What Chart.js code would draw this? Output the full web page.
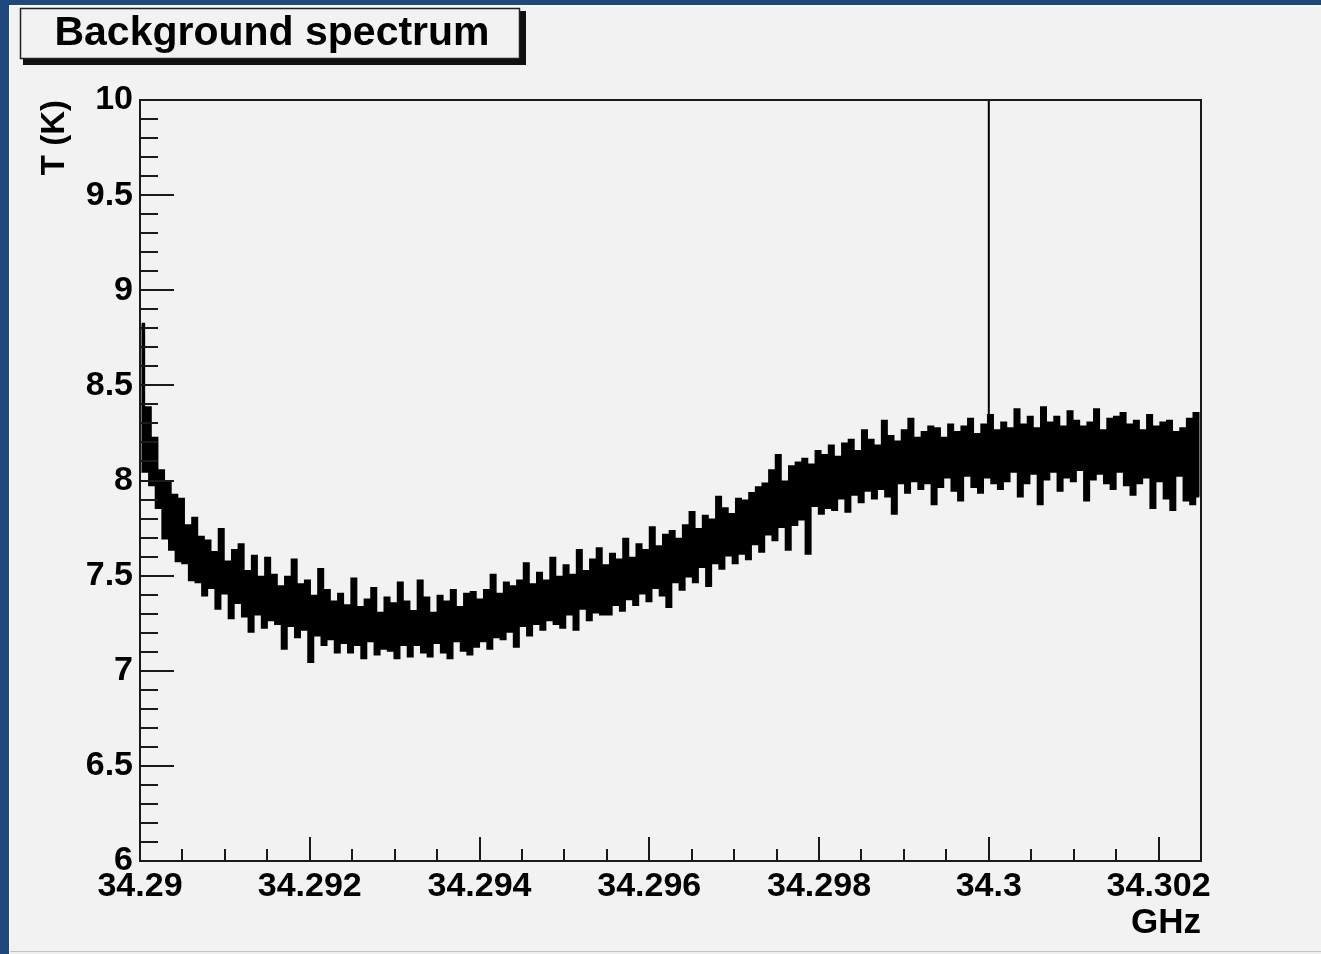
<!DOCTYPE html>
<html>
<head>
<meta charset="utf-8">
<script src="https://cdn.jsdelivr.net/npm/chart.js@4/dist/chart.umd.min.js"></script>
<style>
  html, body { margin: 0; padding: 0; background: #1f497d; }
  canvas { display: block; }
</style>
</head>
<body>
<canvas id="c" width="1321" height="954"></canvas>
<script>
// ---- Data ----
const titleText = "Background spectrum";
const xAxisTitle = "GHz";
const yAxisTitle = "T (K)";

const freqStart = 34.29;        // GHz, left edge of spectrum
const freqEnd = 34.3025;        // GHz, right edge of spectrum
const xTickValues = [34.29, 34.292, 34.294, 34.296, 34.298, 34.3, 34.302];
const yTickValues = [6, 6.5, 7, 7.5, 8, 8.5, 9, 9.5, 10];

// Brightness temperature per channel (K), read left to right
const temperatureK = [
  8.82, 8.05, 8.38, 7.98, 8.22, 7.86, 8.05, 7.70, 7.99, 7.64, 7.92, 7.58, 7.90, 7.57, 7.76, 7.48, 7.80, 7.47, 7.70, 7.40,
  7.68, 7.44, 7.62, 7.33, 7.74, 7.41, 7.57, 7.28, 7.63, 7.36, 7.66, 7.29, 7.52, 7.21, 7.60, 7.30, 7.49, 7.23, 7.59, 7.27,
  7.50, 7.25, 7.44, 7.12, 7.49, 7.24, 7.58, 7.18, 7.45, 7.22, 7.47, 7.05, 7.39, 7.19, 7.53, 7.14, 7.42, 7.17, 7.36, 7.10,
  7.40, 7.15, 7.34, 7.10, 7.48, 7.14, 7.33, 7.07, 7.37, 7.16, 7.43, 7.09, 7.30, 7.12, 7.38, 7.11, 7.35, 7.07, 7.46, 7.14,
  7.36, 7.08, 7.31, 7.14, 7.47, 7.10, 7.38, 7.08, 7.30, 7.15, 7.39, 7.10, 7.36, 7.07, 7.42, 7.16, 7.33, 7.11, 7.40, 7.09,
  7.41, 7.13, 7.37, 7.16, 7.42, 7.12, 7.50, 7.18, 7.40, 7.17, 7.46, 7.21, 7.44, 7.13, 7.47, 7.24, 7.56, 7.19, 7.45, 7.25,
  7.51, 7.22, 7.47, 7.27, 7.59, 7.25, 7.49, 7.23, 7.55, 7.30, 7.50, 7.22, 7.63, 7.33, 7.52, 7.27, 7.58, 7.31, 7.64, 7.30,
  7.55, 7.30, 7.61, 7.35, 7.58, 7.32, 7.69, 7.38, 7.59, 7.35, 7.66, 7.41, 7.63, 7.37, 7.75, 7.44, 7.65, 7.40, 7.71, 7.34,
  7.73, 7.47, 7.69, 7.43, 7.76, 7.50, 7.83, 7.47, 7.74, 7.55, 7.81, 7.45, 7.79, 7.57, 7.91, 7.54, 7.85, 7.61, 7.82, 7.57,
  7.90, 7.62, 7.89, 7.59, 7.93, 7.67, 7.96, 7.63, 7.98, 7.72, 8.05, 7.69, 8.13, 7.76, 7.99, 7.64, 8.07, 7.77, 8.09, 7.80,
  8.11, 7.62, 8.08, 7.87, 8.15, 7.83, 8.13, 7.86, 8.18, 7.85, 8.12, 7.91, 8.19, 7.84, 8.21, 7.93, 8.15, 7.89, 8.26, 7.95,
  8.21, 7.91, 8.18, 7.96, 8.31, 7.92, 8.23, 7.83, 8.20, 7.99, 8.26, 7.94, 8.32, 8.00, 8.22, 7.96, 8.25, 7.99, 8.28, 7.88,
  8.27, 7.97, 8.22, 8.02, 8.29, 7.95, 8.25, 7.90, 8.28, 8.03, 8.32, 7.97, 8.24, 7.94, 8.29, 8.02, 8.34, 7.99, 8.26, 7.96,
  8.30, 8.00, 8.27, 8.05, 8.37, 7.92, 8.29, 7.99, 8.33, 8.04, 8.27, 7.88, 8.38, 8.01, 8.30, 8.05, 8.33, 7.95, 8.28, 8.02,
  8.36, 8.00, 8.31, 8.06, 8.28, 7.90, 8.30, 8.01, 8.37, 8.04, 8.26, 7.99, 8.32, 7.96, 8.33, 8.05, 8.35, 7.98, 8.29, 7.93,
  8.31, 7.99, 8.26, 8.02, 8.34, 7.86, 8.28, 8.00, 8.30, 7.91, 8.31, 7.85, 8.25, 8.03, 8.27, 7.90, 8.32, 7.88, 8.35, 7.92
];

// Narrow spike at 34.3 GHz going off the top of the frame
const spikeFreq = [34.3, 34.3];
const spikeTemp = [8.3, 10.6];

// ---- Build datasets ----
const binWidth = (freqEnd - freqStart) / temperatureK.length;
const spectrumPoints = temperatureK.map((t, i) => ({ x: freqStart + (i + 0.5) * binWidth, y: t }));
const spikePoints = spikeFreq.map((f, i) => ({ x: f, y: spikeTemp[i] }));

const FONT = "'Liberation Sans', Arial, Helvetica, sans-serif";

const bgPlugin = {
  id: 'bg',
  beforeDraw(chart) {
    const ctx = chart.ctx;
    ctx.save();
    ctx.fillStyle = '#1f497d';
    ctx.fillRect(0, 0, chart.width, chart.height);
    ctx.fillStyle = '#fafafa';
    ctx.fillRect(9, 5, chart.width - 9, chart.height - 5);
    ctx.fillStyle = '#f2f2f2';
    ctx.fillRect(10, 7, chart.width - 10, 944);
    ctx.fillStyle = '#c4c4c4';
    ctx.fillRect(10, 951, chart.width - 10, 1);
    ctx.fillStyle = '#f0f0f0';
    ctx.fillRect(10, 952, chart.width - 10, 2);
    // title box with shadow
    ctx.fillStyle = '#111';
    ctx.fillRect(23, 11, 503, 54);
    ctx.fillStyle = '#f2f2f2';
    ctx.fillRect(20, 8, 500, 51);
    ctx.strokeStyle = '#222';
    ctx.lineWidth = 1.5;
    ctx.strokeRect(20.5, 8.5, 499, 50);
    ctx.fillStyle = '#000';
    ctx.font = 'bold 41px ' + FONT;
    ctx.textAlign = 'center';
    ctx.textBaseline = 'alphabetic';
    ctx.fillText(titleText, 272, 45);
    ctx.restore();
  }
};

const framePlugin = {
  id: 'frame',
  afterDatasetsDraw(chart) {
    const ctx = chart.ctx;
    const a = chart.chartArea;
    const xs = chart.scales.x, ys = chart.scales.y;
    ctx.save();
    ctx.strokeStyle = '#1a1a1a';
    ctx.lineWidth = 2;
    ctx.strokeRect(a.left, a.top, a.right - a.left, a.bottom - a.top);
    ctx.beginPath();
    // x ticks: major every 0.002, minor every 0.0005
    for (let k = 0; k <= 25; k++) {
      const v = freqStart + k * 0.0005;
      if (v > freqEnd - 1e-7) break;
      const px = Math.round(xs.getPixelForValue(v));
      const len = (k % 4 === 0) ? 24 : 12;
      ctx.moveTo(px, a.bottom);
      ctx.lineTo(px, a.bottom - len);
    }
    // y ticks: major every 0.5, minor every 0.1
    for (let k = 0; k <= 40; k++) {
      const v = 6 + k * 0.1;
      const py = Math.round(ys.getPixelForValue(v));
      const len = (k % 5 === 0) ? 34 : 18;
      ctx.moveTo(a.left, py);
      ctx.lineTo(a.left + len, py);
    }
    ctx.stroke();
    ctx.restore();
  }
};

new Chart(document.getElementById('c'), {
  type: 'line',
  data: {
    datasets: [
      {
        label: 'spectrum',
        data: spectrumPoints,
        borderColor: '#000',
        borderWidth: 3.7,
        stepped: 'middle',
        pointRadius: 0,
        fill: false
      },
      {
        label: 'spike',
        data: spikePoints,
        borderColor: '#000',
        borderWidth: 2,
        pointRadius: 0,
        fill: false
      }
    ]
  },
  options: {
    responsive: false,
    devicePixelRatio: 1,
    animation: false,
    layout: { padding: { left: 0, right: 120, top: 100, bottom: 0 } },
    plugins: { legend: { display: false }, tooltip: { enabled: false }, title: { display: false } },
    scales: {
      x: {
        type: 'linear',
        min: freqStart,
        max: freqEnd,
        grid: { display: false, drawTicks: false },
        border: { display: false },
        afterBuildTicks(scale) { scale.ticks = xTickValues.map(v => ({ value: v })); },
        afterFit(scale) { scale.height = 93; },
        ticks: {
          autoSkip: false, maxRotation: 0, minRotation: 0, padding: 5,
          color: '#000',
          font: { family: FONT, size: 34, weight: 'bold' },
          callback: (v) => String(+v.toFixed(4))
        },
        title: {
          display: true, text: xAxisTitle, align: 'end', color: '#000',
          font: { family: FONT, size: 35, weight: 'bold' },
          padding: { top: 0, bottom: 10 }
        }
      },
      y: {
        type: 'linear',
        min: 6,
        max: 10,
        grid: { display: false, drawTicks: false },
        border: { display: false },
        afterBuildTicks(scale) { scale.ticks = yTickValues.map(v => ({ value: v })); },
        afterFit(scale) { scale.width = 140; },
        ticks: {
          autoSkip: false, padding: 7, color: '#000',
          font: { family: FONT, size: 34, weight: 'bold' },
          callback: (v) => String(+v.toFixed(2))
        },
        title: {
          display: true, text: yAxisTitle, align: 'end', color: '#000',
          font: { family: FONT, size: 33, weight: 'bold' },
          padding: { top: 35, bottom: 0 }
        }
      }
    }
  },
  plugins: [bgPlugin, framePlugin]
});
</script>
</body>
</html>
